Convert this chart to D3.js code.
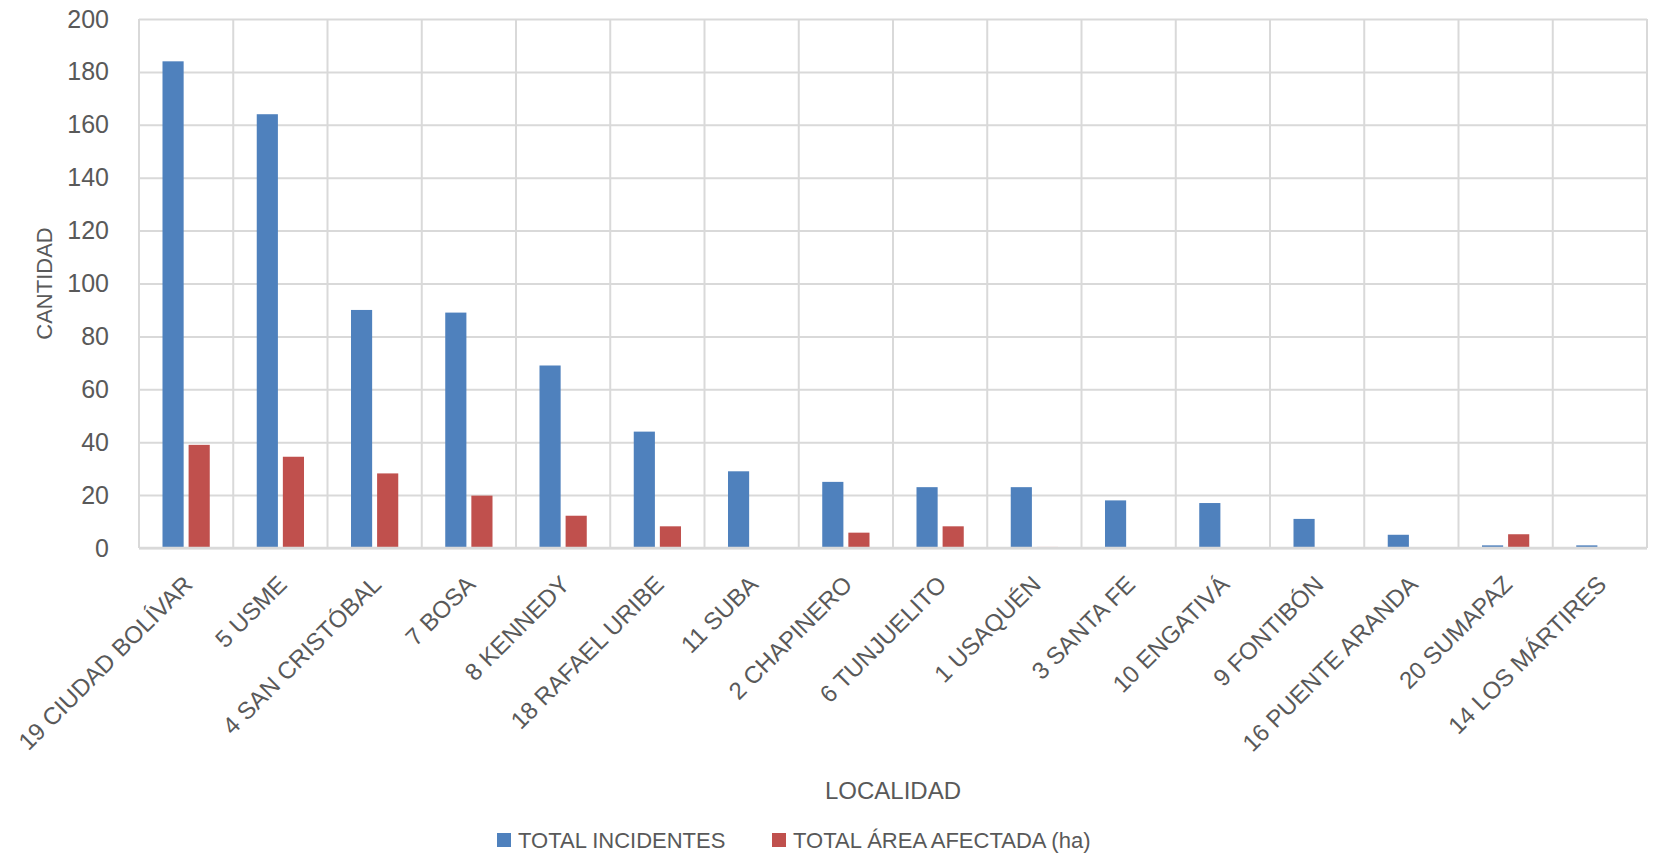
<!DOCTYPE html>
<html>
<head>
<meta charset="utf-8">
<script src="https://cdn.jsdelivr.net/npm/d3@7"></script>
<style>
  html, body { margin: 0; padding: 0; background: #fff; }
  svg text { font-family: "Liberation Sans", Arial, sans-serif; fill: #595959; }
</style>
</head>
<body>
<svg id="chart" width="1656" height="854"></svg>
<script>
 const categories = [
     '19 CIUDAD BOLÍVAR', '5 USME', '4 SAN CRISTÓBAL', '7 BOSA', '8 KENNEDY',
     '18 RAFAEL URIBE', '11 SUBA', '2 CHAPINERO', '6 TUNJUELITO', '1 USAQUÉN',
     '3 SANTA FE', '10 ENGATIVÁ', '9 FONTIBÓN', '16 PUENTE ARANDA', '20 SUMAPAZ',
     '14 LOS MÁRTIRES'
 ];
 const totalIncidentes = [184, 164, 90, 89, 69, 44, 29, 25, 23, 23, 18, 17, 11, 5, 1, 1];
 const totalArea = [39, 34.5, 28.2, 19.8, 12.2, 8.2, 0, 5.8, 8.2, 0.4, 0, 0, 0, 0, 5.2, 0];
 const seriesNames = ['TOTAL INCIDENTES', 'TOTAL ÁREA AFECTADA (ha)'];
 const seriesColors = ['#4F81BD', '#C0504D'];
 const yTicks = [0, 20, 40, 60, 80, 100, 120, 140, 160, 180, 200];

 const
     svg = d3.select('#chart'),
     plot = { left: 139, right: 1647, top: 19, bottom: 548 },
     fontSize = 25;

 const
     xScale = d3.scaleBand().domain(categories).range([plot.left, plot.right]),
     subScale = d3.scaleBand().domain(seriesNames).range([0, xScale.bandwidth()])
         .paddingInner(0.19).paddingOuter(0.9),
     yScale = d3.scaleLinear().domain([0, 200]).range([plot.bottom, plot.top]);

 // horizontal gridlines + tick labels
 const yAxis = svg.append('g')
     .attr('transform', `translate(${plot.left},0)`)
     .call(d3.axisLeft(yScale).tickValues(yTicks).tickSize(-(plot.right - plot.left)).tickPadding(30));
 yAxis.select('.domain').remove();
 yAxis.selectAll('.tick line').attr('stroke', '#D9D9D9').attr('stroke-width', 2);
 yAxis.selectAll('.tick text').attr('font-size', fontSize).attr('fill', '#595959')
     .style('font-family', '"Liberation Sans", Arial, sans-serif');

 // vertical gridlines at category boundaries
 svg.append('g')
     .selectAll('line')
     .data(categories.map(c => xScale(c)).concat([plot.right]))
     .join('line')
     .attr('x1', d => d).attr('x2', d => d)
     .attr('y1', plot.top).attr('y2', plot.bottom)
     .attr('stroke', '#D9D9D9').attr('stroke-width', 2);

 // bars
 const seriesValues = [totalIncidentes, totalArea];
 seriesValues.forEach((values, s) => {
     svg.append('g')
         .selectAll('rect')
         .data(values)
         .join('rect')
         .attr('x', (d, i) => xScale(categories[i]) + subScale(seriesNames[s]))
         .attr('width', subScale.bandwidth())
         .attr('y', d => yScale(d))
         .attr('height', d => yScale(0) - yScale(d))
         .attr('fill', seriesColors[s]);
 });

 // baseline
 svg.append('line')
     .attr('x1', plot.left).attr('x2', plot.right)
     .attr('y1', yScale(0)).attr('y2', yScale(0))
     .attr('stroke', '#D9D9D9').attr('stroke-width', 2.5);

 // rotated category labels
 svg.append('g')
     .selectAll('text')
     .data(categories)
     .join('text')
     .attr('transform', d => `translate(${xScale(d) + xScale.bandwidth() / 2 + 2},${plot.bottom + 32}) rotate(-45)`)
     .attr('text-anchor', 'end')
     .attr('dy', '0.35em')
     .attr('font-size', 24)
     .text(d => d);

 // axis titles
 svg.append('text')
     .attr('transform', `translate(44,${(plot.top + plot.bottom) / 2}) rotate(-90)`)
     .attr('text-anchor', 'middle')
     .attr('dy', '0.35em')
     .attr('font-size', 22)
     .text('CANTIDAD');

 svg.append('text')
     .attr('x', (plot.left + plot.right) / 2)
     .attr('y', 791)
     .attr('text-anchor', 'middle')
     .attr('dy', '0.35em')
     .attr('font-size', 24)
     .text('LOCALIDAD');

 // legend
 const legendX = [497, 772];
 const legend = svg.append('g')
     .selectAll('g')
     .data(seriesNames)
     .join('g')
     .attr('transform', (d, i) => `translate(${legendX[i]},840)`);
 legend.append('rect')
     .attr('x', 0).attr('y', -7)
     .attr('width', 14).attr('height', 14)
     .attr('fill', (d, i) => seriesColors[i]);
 legend.append('text')
     .attr('x', 21)
     .attr('dy', '0.35em')
     .attr('font-size', 22)
     .text(d => d);
</script>
</body>
</html>
